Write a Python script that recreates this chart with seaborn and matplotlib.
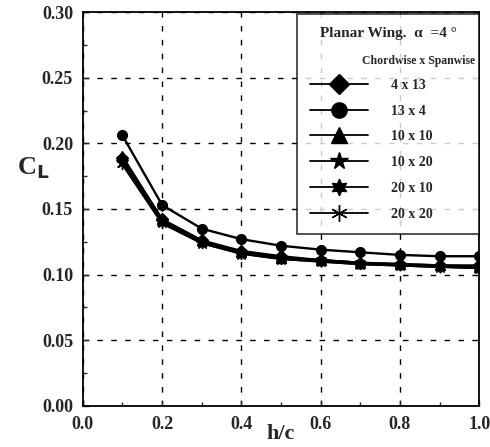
import matplotlib
matplotlib.use("Agg")
import matplotlib.pyplot as plt
import seaborn as sns
import pandas as pd
from matplotlib.lines import Line2D
from matplotlib.ticker import MultipleLocator

sns.set_theme(style="ticks")
plt.rcParams['font.family'] = ['Liberation Serif', 'DejaVu Serif']
plt.rcParams['font.weight'] = 'bold'

h_c = [0.1, 0.2, 0.3, 0.4, 0.5, 0.6, 0.7, 0.8, 0.9, 1.0]
cl_4x13 = [0.189, 0.142, 0.126, 0.118, 0.114, 0.111, 0.109, 0.108, 0.107, 0.107]
cl_13x4 = [0.206, 0.153, 0.135, 0.127, 0.122, 0.119, 0.117, 0.115, 0.114, 0.114]
cl_10x10 = [0.190, 0.142, 0.126, 0.117, 0.113, 0.111, 0.109, 0.108, 0.107, 0.106]
cl_10x20 = [0.186, 0.140, 0.124, 0.116, 0.112, 0.110, 0.108, 0.107, 0.106, 0.105]
cl_20x10 = [0.188, 0.141, 0.125, 0.117, 0.113, 0.111, 0.109, 0.107, 0.106, 0.106]
cl_20x20 = [0.184, 0.139, 0.124, 0.116, 0.112, 0.110, 0.108, 0.107, 0.106, 0.105]
labels = ["4 x 13", "13 x 4", "10 x 10", "10 x 20", "20 x 10", "20 x 20"]
series = [cl_4x13, cl_13x4, cl_10x10, cl_10x20, cl_20x10, cl_20x20]
markers = ["D", "o", "^", "*", (6, 1, 0), (6, 2, 0)]
msizes = [6, 7, 7, 9, 8, 8]

fig = plt.figure(figsize=(4.90, 4.47), dpi=100)
ax = fig.add_axes([0.169, 0.092, 0.809, 0.881])

for lab, vals, m, ms in zip(labels, series, markers, msizes):
    df = pd.DataFrame({"h/c": h_c, "CL": vals})
    sns.lineplot(data=df, x="h/c", y="CL", ax=ax, color="black", lw=1.7,
                 marker=m, markersize=ms, markeredgecolor="black",
                 markeredgewidth=1.0, label=None)

ax.set_xlim(0, 1.0)
ax.set_ylim(0, 0.30)
ax.xaxis.set_major_locator(MultipleLocator(0.2))
ax.xaxis.set_minor_locator(MultipleLocator(0.1))
ax.yaxis.set_major_locator(MultipleLocator(0.05))
ax.yaxis.set_minor_locator(MultipleLocator(0.025))
ax.set_xticklabels([f"{v:.1f}" for v in ax.get_xticks()])
ax.set_yticklabels([f"{v:.2f}" for v in ax.get_yticks()])
ax.tick_params(which="both", direction="in", length=4, width=1, labelsize=13,
               top=False, right=False, pad=7)
ax.tick_params(which="minor", length=3)
for s in ax.spines.values():
    s.set_linewidth(1.3)
    s.set_color("black")
ax.grid(True, which="major", linestyle=(0, (4, 6)), color="black", lw=1.0)

ax.set_xlabel("h/c", fontsize=16, fontweight="bold", labelpad=-6)
ax.set_ylabel("C$_\\mathbf{L}$", fontsize=19, fontweight="bold", rotation=0)
ax.yaxis.set_label_coords(-0.125, 0.57)

handles = [Line2D([], [], color="none")]
hlabels = [" "]
for lab, m, ms in zip(labels, markers, msizes):
    handles.append(Line2D([], [], color="black", lw=1.3, marker=m,
                          markersize=ms + 4, markeredgecolor="black"))
    hlabels.append(lab)
leg = ax.legend(handles, hlabels, loc="upper left",
                bbox_to_anchor=(0.54, 0.47, 0.46, 0.525), mode="expand",
                borderaxespad=0.0, title="Planar Wing.  α  =4 °",
                fontsize=10, title_fontproperties={"weight": "bold", "size": 11},
                handlelength=4.2, numpoints=1, labelspacing=0.92,
                frameon=True, fancybox=False, edgecolor="black",
                borderpad=0.95, handletextpad=1.6)
leg.get_frame().set_linewidth(1.2)
leg.set_zorder(5)
ax.text(0.99, 0.875, "Chordwise x Spanwise", transform=ax.transAxes,
        ha="right", va="center", fontsize=8.5, fontweight="bold", zorder=6)

fig.savefig("out.png", dpi=100)
